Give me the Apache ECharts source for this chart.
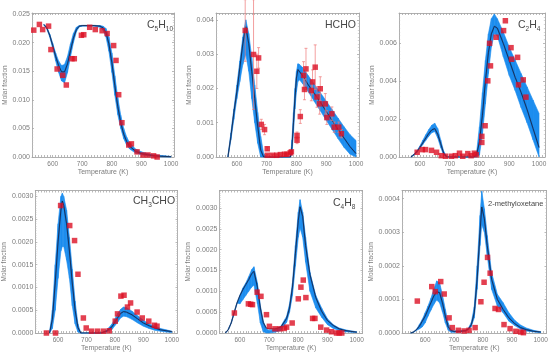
<!DOCTYPE html>
<html>
<head>
<meta charset="utf-8">
<script src="https://cdn.jsdelivr.net/npm/echarts@6/dist/echarts.min.js"></script>
<style>
  html, body { margin: 0; padding: 0; background: #fff; }
  #chart { width: 556px; height: 362px; }
</style>
</head>
<body>
<div id="chart"></div>
<script>
// ---- C5H10 ----
var c5h10T   = [570, 580, 590, 600, 610, 620, 630, 640, 650, 660, 670, 680, 690, 700, 720, 740, 760, 770, 780, 790, 800, 810, 820, 830, 840, 850, 860, 880, 900, 920, 940, 960, 980, 1000];
var c5h10Mid = [.0232, .0226, .0213, .0195, .0176, .0160, .0149, .0149, .0163, .0186, .0208, .0223, .0229, .0230, .0230, .0230, .0229, .0226, .0218, .0198, .0165, .0125, .0088, .0060, .0040, .0027, .0019, .0010, .0006, .0004, .00025, .00015, .0001, .00005];
var c5h10Lo  = [.0231, .0224, .0210, .0190, .0168, .0148, .0133, .0130, .0148, .0175, .0200, .0219, .0228, .0229, .0229, .0229, .0227, .0222, .0210, .0185, .0148, .0108, .0074, .0050, .0032, .0021, .0014, .0007, .0004, .0002, .0001, .00005, .00002, 0];
var c5h10Hi  = [.0232, .0227, .0215, .0199, .0182, .0168, .0160, .0162, .0176, .0198, .0216, .0227, .0230, .0230, .0230, .0230, .0230, .0229, .0225, .0210, .0182, .0142, .0104, .0073, .0050, .0035, .0025, .0014, .0009, .0006, .0004, .0003, .0002, .0001];
var c5h10ExpT = [536, 555, 566, 586, 594, 615, 634, 646, 665, 673, 697, 705, 725, 744, 767, 784, 806, 814, 823, 834, 857, 866, 885, 905, 922, 941, 953];
var c5h10ExpY = [.0222, .0232, .0223, .0229, .0188, .0154, .0143, .0126, .0172, .0172, .0213, .0214, .0227, .0223, .0221, .0216, .0195, .0169, .0109, .0060, .0021, .0023, .0009, .00035, .00035, .0002, 0];

// ---- HCHO ----
var hchoT   = [570, 580, 590, 600, 610, 620, 630, 640, 650, 660, 670, 680, 690, 700, 780, 785, 790, 795, 800, 805, 810, 820, 840, 860, 880, 900, 920, 940, 960, 980, 1000];
var hchoMid = [0, .0006, .0013, .0019, .0026, .0033, .0038, .0033, .0025, .0017, .0009, .0002, 0, 0, 0, .0003, .0010, .0017, .0023, .00255, .0025, .00238, .0021, .00185, .0016, .00133, .00106, .0008, .00055, .0003, .0001];
var hchoLo  = [0, .0005, .0011, .0017, .0022, .0027, .0030, .0025, .0017, .0010, .0004, 0, 0, 0, 0, .0001, .0007, .0014, .0019, .0022, .00225, .00215, .0019, .00162, .00135, .00107, .0008, .00053, .00028, .00008, 0];
var hchoHi  = [0, .0007, .0014, .0021, .0028, .0035, .0040, .0036, .0029, .0021, .0013, .0006, .0001, 0, 0, .0005, .0013, .0020, .0025, .00272, .0027, .00262, .00237, .00212, .00188, .00163, .00138, .00113, .00088, .00065, .00048];
var hchoExpT = [628, 656, 667, 673, 682, 693, 702, 702, 720, 734, 746, 760, 768, 779, 783, 802, 802, 813, 824, 827, 832, 850, 854, 863, 869, 880, 878, 897, 902, 919, 927, 942, 951];
var hchoExpY = [.00369, .00299, .0025, .00289, .00095, .0008, .00024, .00005, .00005, .00005, .00007, .00008, .00008, .00012, .00015, .00063, .00049, .00118, .00238, .00197, .00257, .00194, .00219, .00262, .00175, .00199, .00155, .00155, .00115, .00126, .00087, .00087, .00068];
var hchoErr  = [.0009, .0016, .0005, .0003, .00015, .00015, .00005, .00002, .00002, .00002, .00002, .00002, .00002, .00002, .00003, .0001, .0001, .0002, .0004, .0003, .0006, .0003, .00035, .00065, .0003, .00035, .0003, .0003, .0002, .0002, .00015, .00015, .00012];

// ---- C2H4 ----
var c2h4T   = [570, 580, 590, 600, 610, 620, 630, 640, 650, 660, 670, 680, 690, 700, 780, 790, 800, 810, 820, 830, 840, 850, 860, 880, 900, 920, 940, 960, 980, 1000];
var c2h4Mid = [0, .00012, .00028, .0005, .00075, .001, .00124, .00143, .0015, .0012, .0007, .0002, 0, 0, 0, .0001, .0008, .0022, .0040, .0055, .0065, .0069, .0068, .0060, .0051, .0042, .0034, .0025, .0015, .0005];
var c2h4Lo  = [0, .0001, .00024, .00044, .00066, .00088, .0011, .00128, .00134, .001, .0005, .0001, 0, 0, 0, 0, .0001, .0012, .0028, .0044, .0058, .0065, .0064, .0053, .0043, .0035, .0026, .0018, .0009, 0];
var c2h4Hi  = [0, .00014, .00032, .00058, .00088, .00118, .00145, .00168, .00178, .0015, .0009, .0003, .00003, 0, 0, .0002, .0016, .0034, .0051, .0065, .0073, .00755, .0073, .0066, .0058, .0051, .0044, .0037, .0030, .0023];
var c2h4ExpT = [591, 608, 619, 639, 656, 672, 686, 706, 719, 733, 744, 761, 772, 783, 789, 808, 808, 819, 828, 837, 834, 856, 867, 881, 887, 906, 908, 928, 931, 947, 956];
var c2h4ExpY = [.00025, .00039, .00039, .00035, .00025, .00007, .00004, .00004, .00007, .0002, .00004, .00018, .00007, .0002, .00012, .00109, .00077, .00165, .00402, .00481, .006, .00632, .00767, .00667, .00719, .00577, .00516, .00526, .00381, .00407, .00316];

// ---- CH3CHO ----
var ch3choT   = [570, 580, 590, 600, 610, 615, 620, 630, 640, 650, 660, 670, 680, 690, 750, 770, 790, 810, 820, 830, 840, 860, 880, 900, 920, 940, 960, 980, 1000];
var ch3choMid = [0, .0003, .0011, .0020, .0027, .0029, .0028, .0024, .0018, .0011, .0005, .00012, 0, 0, 0, .00004, .00014, .00034, .00043, .00047, .00046, .0004, .00031, .00022, .00016, .00011, .00007, .00005, .00003];
var ch3choLo  = [0, .0001, .0005, .0012, .0018, .0019, .0019, .0016, .0012, .0006, .0002, .00002, 0, 0, 0, .00002, .00008, .00024, .00033, .00037, .00036, .0003, .00022, .00015, .0001, .00006, .00004, .00002, .00001];
var ch3choHi  = [0, .0005, .0015, .0024, .0030, .00307, .0030, .0027, .0021, .0014, .0007, .0002, 0, 0, 0, .00006, .0002, .00043, .00052, .00057, .00056, .00048, .00038, .00028, .0002, .00015, .0001, .00007, .00004];
var ch3choExpT = [559, 591, 609, 641, 658, 670, 689, 699, 718, 739, 760, 780, 801, 809, 821, 832, 844, 855, 878, 896, 919, 939, 948];
var ch3choExpY = [0, 0, .0028, .00236, .00203, .00129, .00033, .00011, .00004, .00004, .00004, .00005, .00026, .00042, .00081, .00083, .00057, .00066, .00046, .00033, .00026, .00017, .00015];

// ---- C4H8 ----
var c4h8T   = [550, 560, 570, 580, 590, 600, 610, 620, 630, 640, 648, 660, 670, 680, 690, 700, 720, 740, 760, 770, 780, 790, 800, 806, 815, 825, 840, 860, 880, 900, 920, 940, 960, 980, 1000];
var c4h8Mid = [0, .00008, .00024, .00048, .00072, .0009, .00104, .00116, .00128, .00142, .00148, .0011, .0006, .00025, .00012, .0001, .0001, .00014, .00035, .0006, .0011, .0019, .0027, .00303, .0028, .0021, .0014, .00085, .00052, .0003, .00018, .0001, .00006, .00004, .00002];
var c4h8Lo  = [0, .00008, .00024, .00048, .00072, .0007, .0008, .0009, .001, .0011, .00115, .0007, .00024, .00003, 0, 0, .00002, .00006, .00026, .0005, .0009, .0016, .0023, .00252, .0023, .0017, .0010, .0006, .00038, .0002, .00011, .00006, .00003, .00002, .00001];
var c4h8Hi  = [0, .00008, .00024, .00048, .00072, .0009, .00108, .0012, .00135, .00152, .00159, .0012, .00065, .00028, .0001, .00006, .00008, .00016, .0004, .0007, .0012, .0021, .0029, .0032, .0029, .0023, .00145, .0009, .0006, .00034, .0002, .00012, .00008, .00005, .00003];
var c4h8ExpT = [581, 629, 637, 643, 659, 672, 691, 701, 720, 737, 752, 760, 779, 800, 809, 817, 826, 849, 857, 877, 897, 914, 931, 940, 949];
var c4h8ExpY = [.00048, .0007, .00069, .00068, .00098, .00088, .00044, .00016, .0001, .0001, .00011, .00014, .00024, .00082, .0011, .00127, .00085, .00035, .00035, .00014, .00007, .00003, 0, 0, 0];

// ---- 2-methyloxetane ----
var moxT   = [550, 560, 570, 580, 590, 600, 610, 620, 630, 640, 650, 660, 670, 680, 690, 700, 720, 740, 750, 760, 770, 780, 790, 796, 805, 815, 830, 850, 870, 890, 910, 930, 950, 975, 1000];
var moxMid = [0, .000003, .00001, .00002, .000035, .00005, .00007, .00009, .00011, .000123, .00012, .00009, .00005, .000018, .000007, .000005, .000005, .000007, .000012, .000025, .00006, .00016, .0003, .000375, .00034, .00026, .00016, .0001, .00007, .000045, .000028, .000016, .00001, .000005, .000003];
var moxLo  = [0, .000002, .000008, .000012, .000018, .00003, .00005, .000068, .000085, .000098, .00009, .000063, .00003, .000008, .000002, .000002, .000003, .000005, .000009, .00002, .000045, .00013, .00026, .000322, .0003, .00023, .00013, .00008, .00006, .000035, .000022, .000012, .000006, .000003, .000001];
var moxHi  = [0, .000003, .00001, .000025, .00004, .00006, .00008, .000103, .00013, .000155, .00015, .000113, .00007, .00003, .00001, .000006, .000006, .000008, .000015, .000032, .000078, .0002, .00035, .000422, .00037, .00029, .00018, .000115, .00009, .00006, .000038, .000024, .000015, .000008, .000004];
var moxExpT = [573, 623, 635, 654, 666, 683, 694, 715, 735, 752, 773, 793, 804, 816, 825, 842, 854, 873, 894, 914, 931, 940];
var moxExpY = [.000095, .000138, .000123, .000153, .000116, .000045, .000016, .000008, .000006, .000008, .000016, .000093, .000151, .000225, .000178, .000073, .00007, .000025, .000013, .000005, .000003, .000001];

var panels = [
  { title: '{n|C}{s|5}{n|H}{s|10}', T: c5h10T, mid: c5h10Mid, lo: c5h10Lo, hi: c5h10Hi, expT: c5h10ExpT, expY: c5h10ExpY,
    grid: { left: 32, top: 13, width: 142, height: 144 }, xMin: 530, xMax: 1010, yMax: 0.0252, yStep: 0.005, dec: 3, nameGap: 23, tpos: [147, 20] },
  { title: '{n|HCHO}', T: hchoT, mid: hchoMid, lo: hchoLo, hi: hchoHi, expT: hchoExpT, expY: hchoExpY, err: hchoErr,
    grid: { left: 216, top: 13, width: 143, height: 144 }, xMin: 530, xMax: 1010, yMax: 0.0042, yStep: 0.001, dec: 3, nameGap: 23, tpos: [325, 20] },
  { title: '{n|C}{s|2}{n|H}{s|4}', T: c2h4T, mid: c2h4Mid, lo: c2h4Lo, hi: c2h4Hi, expT: c2h4ExpT, expY: c2h4ExpY,
    grid: { left: 399, top: 13, width: 146, height: 144 }, xMin: 530, xMax: 1020, yMax: 0.0076, yStep: 0.002, dec: 3, nameGap: 21, tpos: [518, 20] },
  { title: '{n|CH}{s|3}{n|CHO}', T: ch3choT, mid: ch3choMid, lo: ch3choLo, hi: ch3choHi, expT: ch3choExpT, expY: ch3choExpY,
    grid: { left: 34, top: 190.5, width: 143.5, height: 142.5 }, xMin: 520, xMax: 1020, yMax: 0.00313, yStep: 0.0005, dec: 4, nameGap: 27, tpos: [133, 196] },
  { title: '{n|C}{s|4}{n|H}{s|8}', T: c4h8T, mid: c4h8Mid, lo: c4h8Lo, hi: c4h8Hi, expT: c4h8ExpT, expY: c4h8ExpY,
    grid: { left: 219.5, top: 190.5, width: 143, height: 142.5 }, xMin: 530, xMax: 1020, yMax: 0.00342, yStep: 0.0005, dec: 4, nameGap: 26, tpos: [333, 198] },
  { title: '{m|2-methyloxetane}', T: moxT, mid: moxMid, lo: moxLo, hi: moxHi, expT: moxExpT, expY: moxExpY,
    grid: { left: 402, top: 190.5, width: 144.5, height: 142.5 }, xMin: 520, xMax: 1020, yMax: 0.000424, yStep: 0.0001, dec: 4, nameGap: 26, tpos: [488, 200] }
];

var FONT = 'Liberation Sans';
var BLUE = '#1c8def';
var frameColor = '#9c9c9c';
var labelColor = '#7c7c7c';

function zip(a, b) {
  return a.map(function (v, i) { return [v, b[i]]; });
}

var option = { animation: false, grid: [], xAxis: [], yAxis: [], series: [], title: [] };

panels.forEach(function (p, i) {
  option.grid.push(p.grid);

  var tickStyle = { inside: true, length: 2, lineStyle: { color: '#a8a8a8', width: 0.8 } };
  var lineStyle = { show: true, onZero: false, lineStyle: { color: frameColor, width: 0.8 } };

  ['bottom', 'top'].forEach(function (pos) {
    option.xAxis.push({
      type: 'value', gridIndex: i, position: pos, min: p.xMin, max: p.xMax, interval: 10,
      axisLine: lineStyle, axisTick: tickStyle, splitLine: { show: false },
      name: pos === 'bottom' ? 'Temperature (K)' : '',
      nameLocation: 'middle', nameGap: 12,
      nameTextStyle: { fontFamily: FONT, fontSize: 7, color: labelColor },
      axisLabel: {
        show: pos === 'bottom', fontFamily: FONT, fontSize: 6.5, color: labelColor, margin: 4,
        formatter: function (v) { return Math.abs(v / 100 - Math.round(v / 100)) < 1e-6 ? String(Math.round(v)) : ''; }
      }
    });
  });

  ['left', 'right'].forEach(function (pos) {
    option.yAxis.push({
      type: 'value', gridIndex: i, position: pos, min: 0, max: p.yMax, interval: p.yStep,
      axisLine: lineStyle, axisTick: tickStyle, splitLine: { show: false },
      minorTick: { show: true, splitNumber: 10, length: 1.2, lineStyle: { color: '#b8b8b8', width: 0.6 } },
      name: pos === 'left' ? 'Molar fraction' : '',
      nameLocation: 'middle', nameGap: p.nameGap, nameRotate: 90,
      nameTextStyle: { fontFamily: FONT, fontSize: 6.5, color: labelColor },
      axisLabel: {
        show: pos === 'left', fontFamily: FONT, fontSize: 7, color: labelColor, margin: 2,
        formatter: function (v) { return Math.abs(v / p.yStep - Math.round(v / p.yStep)) < 1e-6 ? v.toFixed(p.dec) : ''; }
      }
    });
  });

  var xi = i * 2, yi = i * 2;

  // uncertainty band, one quad per step between neighbouring temperatures
  var bandRows = [];
  for (var k = 0; k < p.T.length - 1; k++) {
    bandRows.push([p.T[k], p.lo[k], p.hi[k], p.T[k + 1], p.lo[k + 1], p.hi[k + 1]]);
  }
  option.series.push({
    type: 'custom', xAxisIndex: xi, yAxisIndex: yi, z: 1, silent: true,
    encode: { x: [0, 3], y: [1, 2, 4, 5] },
    data: bandRows,
    renderItem: function (params, api) {
      var a = api.coord([api.value(0), api.value(1)]);
      var b = api.coord([api.value(3), api.value(4)]);
      var c = api.coord([api.value(3), api.value(5)]);
      var d = api.coord([api.value(0), api.value(2)]);
      return { type: 'polygon', shape: { points: [a, b, c, d] }, style: { fill: BLUE, stroke: BLUE, lineWidth: 0.6 } };
    }
  });
  // darker core of the sample curves
  option.series.push({
    type: 'line', xAxisIndex: xi, yAxisIndex: yi, data: zip(p.T, p.mid), symbol: 'none',
    lineStyle: { color: '#0b4fae', width: 1.6, opacity: 0.4 }, silent: true, z: 2
  });
  // nominal model
  option.series.push({
    type: 'line', xAxisIndex: xi, yAxisIndex: yi, data: zip(p.T, p.mid), symbol: 'none',
    lineStyle: { color: '#17223f', width: 0.8 }, silent: true, z: 3
  });

  if (p.err) {
    option.series.push({
      type: 'custom', xAxisIndex: xi, yAxisIndex: yi, z: 4, silent: true,
      data: p.expT.map(function (t, k) { return [t, p.expY[k], p.err[k]]; }),
      renderItem: function (params, api) {
        var x = api.value(0), y = api.value(1), e = api.value(2);
        var a = api.coord([x, y + e]);
        var b = api.coord([x, Math.max(0, y - e)]);
        var st = { stroke: '#ee7777', lineWidth: 0.7 };
        return { type: 'group', children: [
          { type: 'line', shape: { x1: a[0], y1: a[1], x2: b[0], y2: b[1] }, style: st },
          { type: 'line', shape: { x1: a[0] - 1.5, y1: a[1], x2: a[0] + 1.5, y2: a[1] }, style: st },
          { type: 'line', shape: { x1: b[0] - 1.5, y1: b[1], x2: b[0] + 1.5, y2: b[1] }, style: st }
        ] };
      }
    });
  }

  option.series.push({
    type: 'scatter', xAxisIndex: xi, yAxisIndex: yi, data: zip(p.expT, p.expY),
    symbol: 'rect', symbolSize: 5.5, itemStyle: { color: '#dc1024' }, silent: true, z: 5
  });

  option.title.push({
    text: p.title, left: p.tpos[0], top: p.tpos[1], padding: 0,
    textStyle: {
      fontWeight: 'normal',
      rich: {
        n: { fontFamily: FONT, fontSize: 10.5, fontWeight: 'normal', color: '#474747', lineHeight: 11, verticalAlign: 'top' },
        s: { fontFamily: FONT, fontSize: 6.5, fontWeight: 'normal', color: '#474747', lineHeight: 7, verticalAlign: 'top', padding: [6, 0, 0, 0] },
        m: { fontFamily: FONT, fontSize: 7.5, fontWeight: 'normal', color: '#474747' }
      }
    }
  });
});

var chart = echarts.init(document.getElementById('chart'), null, { renderer: 'canvas' });
chart.setOption(option);
</script>
</body>
</html>
